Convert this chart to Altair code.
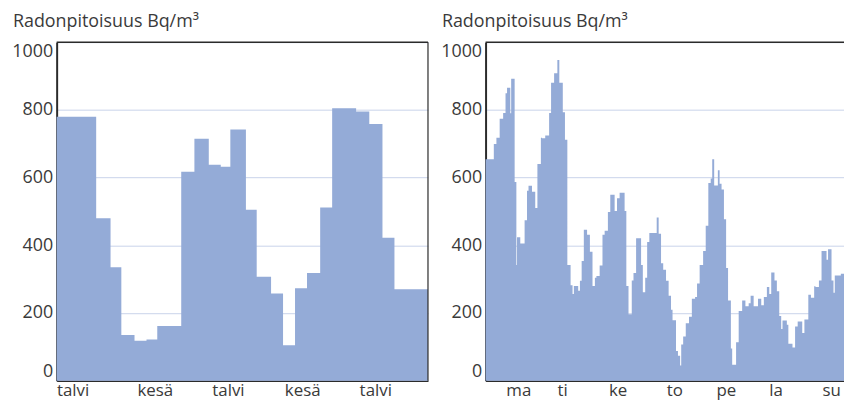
import json
import altair as alt
import pandas as pd

# ---------------- data ----------------
# Left panel: long-term (monthly-ish) radon levels, step boundaries in months
left_bounds = [0, 3.3, 4.5, 5.4, 6.5, 7.5, 8.4, 10.4, 11.5, 12.7, 13.7, 14.5, 15.8,
               16.7, 17.9, 18.9, 19.9, 20.9, 22.0, 23.0, 25.0, 26.1, 27.2, 28.2, 31.0]
left_values = [780, 480, 335, 135, 118, 122, 162, 617, 715, 638, 632, 742, 505,
               307, 258, 105, 273, 318, 512, 805, 795, 758, 422, 270]
season_pos = [1.33, 8.2, 14.3, 20.5, 26.6]
season_labels = ["talvi", "kesä", "talvi", "kesä", "talvi"]

# Right panel: one week of (roughly hourly) radon levels, boundaries in hours
right_bounds = [0, 3.8, 5.0, 6.5, 8.1, 9.2, 9.9, 11.4, 11.8, 13.4,
                14.2, 14.5, 16.0, 18.0, 19.1, 19.8, 21.4, 22.9, 23.9, 25.5,
                26.0, 27.5, 29.3, 30.2, 31.6, 33.1, 34.0, 35.6, 36.6, 37.7,
                39.2, 40.1, 40.7, 42.7, 43.5, 44.3, 45.3, 46.8, 48.1, 49.3,
                50.4, 51.1, 52.6, 53.9, 54.9, 56.4, 57.5, 59.5, 60.6, 61.8,
                64.1, 64.9, 65.9, 67.4, 68.2, 69.4, 71.7, 72.5, 73.6, 74.5,
                75.5, 78.9, 79.8, 80.9, 81.9, 83.2, 84.4, 85.5, 86.2, 87.8,
                88.7, 89.7, 90.2, 91.1, 92.3, 93.8, 95.1, 96.6, 97.5, 98.7,
                100.3, 101.5, 102.7, 103.8, 104.5, 105.4, 107.1, 107.9, 108.8, 109.9,
                110.9, 111.8, 113.1, 113.7, 115.5, 116.7, 118.3, 119.8, 121.3, 122.2,
                123.6, 125.6, 127.1, 128.3, 129.7, 130.8, 131.7, 133.2, 134.3, 135.4,
                136.3, 136.9, 138.9, 139.6, 141.5, 142.7, 143.9, 146.0, 147.0, 148.8,
                150.0, 151.5, 152.1, 153.7, 154.9, 157.2, 157.9, 159.5, 160.4, 161.0,
                163.8, 165.3, 166.8, 168.0]
right_values = [654, 699, 718, 774, 791, 849, 865, 790, 892, 587,
                342, 424, 405, 474, 561, 576, 558, 510, 640, 718,
                716, 724, 791, 880, 908, 947, 880, 793, 712, 342,
                282, 256, 280, 266, 295, 354, 446, 431, 381, 280,
                304, 309, 340, 431, 443, 498, 549, 501, 539, 555,
                501, 280, 196, 296, 318, 421, 342, 261, 304, 410,
                436, 482, 434, 347, 328, 295, 251, 210, 179, 88,
                74, 45, 107, 131, 170, 189, 242, 247, 287, 342,
                383, 458, 584, 597, 654, 577, 622, 582, 565, 477,
                333, 237, 95, 47, 114, 206, 237, 220, 229, 251,
                220, 242, 223, 247, 277, 256, 320, 296, 264, 191,
                153, 178, 165, 109, 98, 160, 175, 141, 181, 254,
                245, 279, 277, 296, 383, 357, 388, 296, 260, 311,
                316, 390, 357]
day_pos = [15.1, 35.3, 60.9, 87.0, 110.8, 133.7, 159.3]
day_labels = ["ma", "ti", "ke", "to", "pe", "la", "su"]

y_ticks = [0, 200, 400, 600, 800, 1000]
title_text = "Radonpitoisuus Bq/m³"

# ---------------- style ----------------
FONT = "Open Sans"
TEXT = "#3a3a3a"
FILL = "#94abd7"
GRID = "#c9d3ea"
FRAME = "#2b2b2b"
PLOT_H = 341


def step_table(bounds, values):
    return pd.DataFrame({"x": list(bounds), "y": list(values) + [values[-1]]})


def label_expr(pos, labels):
    return (f"{json.dumps(labels, ensure_ascii=False)}"
            f"[indexof({json.dumps(pos)}, datum.value)]")


def y_axis():
    return alt.Axis(values=y_ticks, format="d", title=None, grid=True,
                    gridColor=GRID, gridWidth=1, ticks=False, domain=True,
                    domainColor=FRAME, domainWidth=2, labelPadding=4,
                    labelFlush=True, minExtent=47, maxExtent=47,
                    labelFontSize=18, labelFont=FONT, labelColor=TEXT)


def x_axis(pos, labels):
    return alt.Axis(values=pos, labelExpr=label_expr(pos, labels), title=None,
                    grid=False, ticks=False, domain=True, domainColor=FRAME,
                    domainWidth=1.5, labelPadding=2, labelFlush=False,
                    labelOverlap=False, labelFontSize=17, labelFont=FONT,
                    labelColor=TEXT)


def area(df, xmax, pos, labels):
    return alt.Chart(df).mark_area(interpolate="step-after", color=FILL,
                                   opacity=1).encode(
        x=alt.X("x:Q", scale=alt.Scale(domain=[0, xmax], nice=False, zero=False),
                axis=x_axis(pos, labels)),
        y=alt.Y("y:Q", scale=alt.Scale(domain=[0, 1000], nice=False),
                axis=y_axis()),
    )


def panel_title():
    return alt.Chart(pd.DataFrame({"t": [title_text]})).mark_text(
        align="left", baseline="alphabetic", font=FONT, fontSize=18,
        color=TEXT,
    ).encode(x=alt.value(-44), y=alt.value(-15), text="t:N")


def top_line():
    return alt.Chart(pd.DataFrame({"y": [1000]})).mark_rule(
        color=FRAME, strokeWidth=1.5).encode(y="y:Q")


right_edge = alt.Chart(pd.DataFrame({"x": [31]})).mark_rule(
    color=FRAME, strokeWidth=1.2).encode(x="x:Q")

left = alt.layer(
    area(step_table(left_bounds, left_values), 31, season_pos, season_labels),
    top_line(),
    right_edge,
    panel_title(),
).properties(width=374, height=PLOT_H)

right = alt.layer(
    area(step_table(right_bounds, right_values), 168, day_pos, day_labels),
    top_line(),
    panel_title(),
).properties(width=367, height=PLOT_H)

chart = alt.hconcat(left, right, spacing=8).properties(
    padding={"left": 1, "top": 3, "right": -8, "bottom": -1}
).configure_view(stroke="transparent")

chart.save("out.html", embed_options={"renderer": "svg", "actions": False})
